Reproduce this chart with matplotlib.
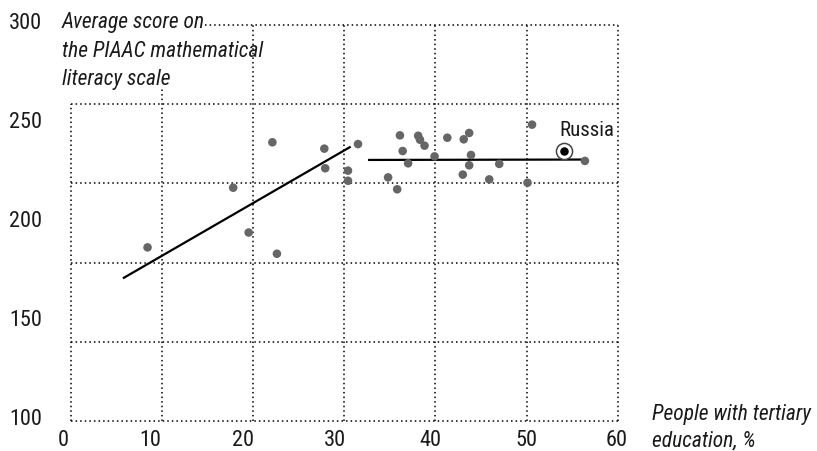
import matplotlib
matplotlib.use("Agg")
import matplotlib.pyplot as plt

# ---- data (grid coordinates: x = tertiary education %, y = PIAAC score) ----
edu = [8.4, 17.8, 19.5, 22.1, 22.6, 27.8, 27.9, 31.5, 30.4, 30.4,
       36.1, 36.4, 37.0, 34.8, 35.8, 38.1, 38.3, 38.8, 39.9, 41.3,
       43.1, 43.7, 43.9, 43.7, 43.0, 45.9, 47.0, 50.1, 50.6, 56.4]
score = [187.7, 217.8, 195.2, 240.7, 184.5, 237.5, 227.6, 239.8, 226.4, 221.3,
         244.2, 236.3, 230.1, 223.0, 217.0, 244.0, 242.0, 239.0, 233.6, 243.0,
         242.2, 245.4, 234.3, 229.1, 224.4, 222.0, 229.8, 220.3, 249.6, 231.3]
russia_edu = 54.1
russia_score = 236.2
russia_label = "Russia"

trend_low_x = [5.7, 30.7]
trend_low_y = [172.1, 238.5]
trend_high_x = [32.6, 56.4]
trend_high_y = [231.8, 232.0]

xtick_values = [0, 10, 20, 30, 40, 50, 60]
ytick_values = [100, 150, 200, 250, 300]
ygrid_values = [100, 140, 180, 220, 260, 300]

ytitle_lines = ["Average score on", "the PIAAC mathematical", "literacy scale"]
xtitle_lines = ["People with tertiary", "education, %"]

# ---- layout ----
W, H = 817, 452
fig = plt.figure(figsize=(W / 100, H / 100), dpi=100)
ax = fig.add_axes([71 / W, (H - 422.3) / H, 546.7 / W, 396.6 / H])
ax.set_xlim(0, 60)
ax.set_ylim(100, 300)
ax.axis("off")

FONT = ["Liberation Sans Narrow", "Roboto Condensed", "Roboto", "DejaVu Sans"]
TXT = "#1a1a1a"
dot = dict(color="black", linewidth=1.1, linestyle=(0, (1, 2.0)), zorder=1, clip_on=False)

# horizontal grid lines (top one starts after the title text)
for gy in ygrid_values:
    x0 = 14.7 if gy == 300 else 0
    ax.plot([x0, 60], [gy, gy], **dot)
# vertical grid lines (left ones start below the title text)
for gx in xtick_values:
    ytop = 300
    if gx == 0:
        ytop = 260
    elif gx == 10:
        ytop = 268.6
    ax.plot([gx, gx], [100, ytop], **dot)

# tick labels
xlabel_pos = [-0.88, 8.67, 18.88, 28.98, 39.41, 49.95, 59.83]
for v, p in zip(xtick_values, xlabel_pos):
    ax.text(p, 90.8, str(v), ha="center", va="center", fontsize=16,
            family=FONT, color=TXT, clip_on=False)
for v in ytick_values:
    ax.text(-3.2, v + 1.3, str(v), ha="right", va="center", fontsize=16,
            family=FONT, color=TXT, clip_on=False)

# axis titles
for i, line in enumerate(ytitle_lines):
    ax.text(-0.99, 301.4 - i * 14.3, line, ha="left", va="center", fontsize=15.5,
            style="italic", family=FONT, color=TXT, clip_on=False)
for i, line in enumerate(xtitle_lines):
    ax.text(63.77, 104.0 - i * 13.4, line, ha="left", va="center", fontsize=15.5,
            style="italic", family=FONT, color=TXT, clip_on=False)

# points
ax.scatter(edu, score, s=38, color="#666666", edgecolors="none", zorder=3, clip_on=False)

# trend lines
ax.plot(trend_low_x, trend_low_y, color="black", linewidth=1.6, zorder=4,
        solid_capstyle="butt")
ax.plot(trend_high_x, trend_high_y, color="black", linewidth=1.6, zorder=2,
        solid_capstyle="butt")

# Russia
ax.scatter([russia_edu], [russia_score], s=135, facecolor="white",
           edgecolors="#444444", linewidths=1.1, zorder=5)
ax.scatter([russia_edu], [russia_score], s=26, color="black", zorder=6)
ax.text(53.56, 247.4, russia_label, ha="left", va="center", fontsize=15,
        family=FONT, color=TXT)

fig.savefig("out.png", dpi=100)
